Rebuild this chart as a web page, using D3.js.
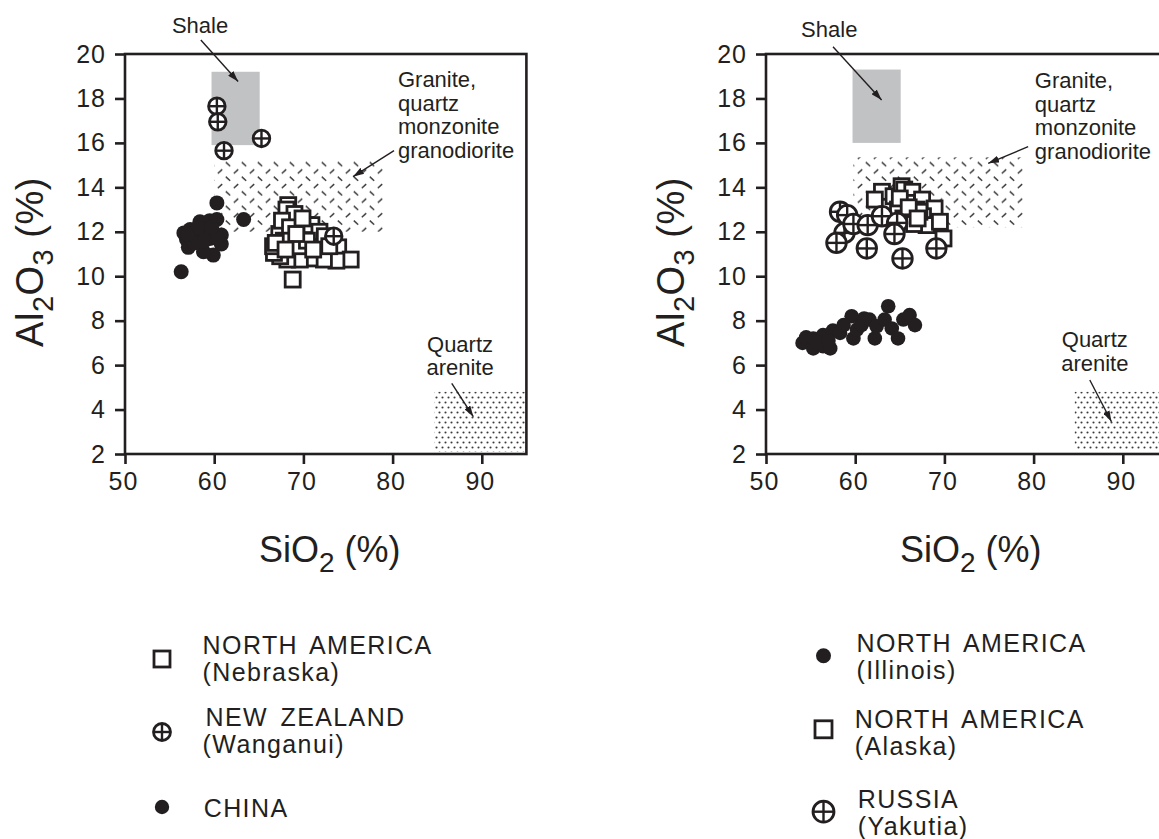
<!DOCTYPE html>
<html><head><meta charset="utf-8">
<script src="https://cdn.jsdelivr.net/npm/d3@7"></script>
<style>
html,body{margin:0;padding:0;background:#fff;}
svg{display:block;}
text{font-family:"Liberation Sans",Arial,Helvetica,sans-serif;fill:#231f20;}
</style></head><body>
<svg id="chart" width="1159" height="839"></svg>
<script>
// ---------- data ----------
const xTicks = [50, 60, 70, 80, 90];
const yTicks = [2, 4, 6, 8, 10, 12, 14, 16, 18, 20];
const xDomain = [50, 95];
const yDomain = [2, 20];

// Left panel series [SiO2, Al2O3]
const nebraska = [[68.3,13.2],[68.1,13.0],[69.0,12.8],[70.2,12.3],[70.9,12.3],[71.8,12.0],[72.4,11.8],[73.9,11.3],[75.3,10.75],[73.7,10.7],[72.3,10.75],[70.7,10.8],[69.6,10.75],[68.2,10.75],[67.4,10.9],[66.7,11.05],[66.6,11.35],[67.3,11.9],[67.6,12.5],[68.5,12.2],[69.6,11.35],[70.4,11.6],[71.1,11.2],[72.9,11.35],[67.8,11.6],[68.8,9.85],[69.2,11.9],[66.9,11.5],[68.0,11.2],[69.9,12.6]];
const wanganui = [[60.3,17.65],[60.4,16.95],[61.1,15.65],[65.3,16.2],[73.4,11.8]];
const china = [[60.3,13.3],[63.3,12.55],[56.3,10.2],[57.3,12.1],[58.4,12.45],[59.5,12.5],[60.3,12.55],[58.0,11.85],[56.9,11.65],[57.1,11.3],[58.4,11.5],[59.5,11.7],[60.8,11.85],[60.8,11.45],[59.9,10.95],[58.8,11.1],[59.2,12.1],[60.3,11.7],[58.2,12.2],[56.6,11.95],[57.7,11.5],[57.0,11.9],[58.9,11.6],[59.7,12.2]];

// Right panel series
const illinois = [[54.1,7.0],[54.5,7.25],[55.3,6.75],[55.3,7.2],[56.4,6.85],[56.4,7.35],[57.2,6.75],[57.5,7.55],[58.3,7.45],[58.7,7.8],[59.6,8.2],[59.8,7.2],[60.2,7.6],[60.7,7.8],[61.6,8.05],[62.2,7.2],[62.4,7.75],[63.3,8.05],[63.7,8.65],[64.1,7.65],[64.8,7.2],[65.4,8.05],[66.1,8.25],[66.7,7.8],[55.8,7.0],[57.0,7.1],[61.0,8.1]];
const alaska = [[63.0,13.8],[62.2,13.45],[64.3,13.6],[65.2,14.05],[65.5,13.9],[66.4,13.8],[65.8,13.3],[67.5,13.45],[66.9,13.0],[68.9,13.05],[67.6,12.7],[66.1,12.7],[68.0,12.3],[69.5,12.45],[69.9,11.7],[64.8,13.0],[65.4,12.6],[66.6,12.35],[67.2,12.9],[65.0,13.5],[66.0,13.1],[67.0,12.6]];
const yakutia = [[58.3,12.9],[59.1,12.75],[58.8,11.95],[59.8,12.35],[57.9,11.5],[61.4,12.3],[63.0,12.7],[64.7,12.4],[64.4,11.9],[61.3,11.25],[65.3,10.8],[69.1,11.25]];

// Compositional fields [SiO2 min, SiO2 max, Al2O3 min, Al2O3 max]
const shaleLeft = [59.7, 65.1, 15.9, 19.2];
const graniteLeft = [60.0, 79.0, 12.0, 15.2];
const areniteLeft = [84.7, 95.0, 2.1, 4.8];
const shaleRight = [59.7, 65.1, 16.0, 19.3];
const graniteRight = [59.8, 78.8, 12.2, 15.35];
const areniteRight = [84.6, 95.0, 2.2, 4.8];

const legendLeft = [["square","NORTH AMERICA","(Nebraska)"],["oplus","NEW ZEALAND","(Wanganui)"],["dot","CHINA",null]];
const legendRight = [["dot","NORTH AMERICA","(Illinois)"],["square","NORTH AMERICA","(Alaska)"],["oplus","RUSSIA","(Yakutia)"]];

// ---------- layout ----------
const INK = "#231f20";
const svg = d3.select("#chart");
const defs = svg.append("defs");

// granite dash pattern
const pg = defs.append("pattern").attr("id","granite").attr("patternUnits","userSpaceOnUse")
  .attr("width",16).attr("height",14.6);
pg.append("line").attr("x1",1.8).attr("y1",1.6).attr("x2",6.2).attr("y2",5.6).attr("stroke","#3a3a3a").attr("stroke-width",1.5);
pg.append("line").attr("x1",9.8).attr("y1",12.9).attr("x2",14.2).attr("y2",8.9).attr("stroke","#3a3a3a").attr("stroke-width",1.5);
// arenite stipple
const pa = defs.append("pattern").attr("id","arenite").attr("patternUnits","userSpaceOnUse")
  .attr("width",6).attr("height",10);
pa.append("circle").attr("cx",1.5).attr("cy",2.5).attr("r",1.05).attr("fill","#3a3a3a");
pa.append("circle").attr("cx",4.5).attr("cy",7.5).attr("r",1.05).attr("fill","#3a3a3a");
// arrowhead
defs.append("marker").attr("id","arrow").attr("markerUnits","userSpaceOnUse")
  .attr("markerWidth",11).attr("markerHeight",7).attr("refX",11).attr("refY",3.5).attr("orient","auto")
  .append("path").attr("d","M0,0 L11,3.5 L0,7 Z").attr("fill",INK);

function drawMarker(g, type, cx, cy, sz) {
  if (type === "square") {
    g.append("rect").attr("x",cx-sz/2).attr("y",cy-sz/2).attr("width",sz).attr("height",sz)
      .attr("fill","#fff").attr("stroke",INK).attr("stroke-width",2.8);
  } else if (type === "oplus") {
    g.append("circle").attr("cx",cx).attr("cy",cy).attr("r",sz).attr("fill","#fff").attr("stroke",INK).attr("stroke-width",2.8);
    g.append("line").attr("x1",cx-sz).attr("x2",cx+sz).attr("y1",cy).attr("y2",cy).attr("stroke",INK).attr("stroke-width",2.4);
    g.append("line").attr("x1",cx).attr("x2",cx).attr("y1",cy-sz).attr("y2",cy+sz).attr("stroke",INK).attr("stroke-width",2.4);
  } else {
    g.append("circle").attr("cx",cx).attr("cy",cy).attr("r",sz).attr("fill",INK);
  }
}

function panel(cfg) {
  const x = d3.scaleLinear().domain(xDomain).range([cfg.left, cfg.left + 401.4]);
  const y = d3.scaleLinear().domain(yDomain).range([454, 54]);
  const g = svg.append("g");

  // fields
  const field = (f, fill) => g.append("rect")
    .attr("x", x(f[0])).attr("width", x(f[1]) - x(f[0]))
    .attr("y", y(f[3])).attr("height", y(f[2]) - y(f[3])).attr("fill", fill);
  field(cfg.shale, "#c1c2c4");
  field(cfg.granite, "url(#granite)");
  field(cfg.arenite, "url(#arenite)");

  // frame
  g.append("rect").attr("x", x(50)).attr("y", y(20)).attr("width", x(95) - x(50)).attr("height", y(2) - y(20))
    .attr("fill","none").attr("stroke",INK).attr("stroke-width",2.6);

  // axes
  const ax = g.append("g").attr("transform", `translate(0,${y(2)})`)
    .call(d3.axisBottom(x).tickValues(xTicks).tickSize(10).tickSizeOuter(0).tickPadding(8).tickFormat(d3.format("d")));
  const ay = g.append("g").attr("transform", `translate(${x(50)},0)`)
    .call(d3.axisLeft(y).tickValues(yTicks).tickSize(10).tickSizeOuter(0).tickPadding(9).tickFormat(d3.format("d")));
  [ax, ay].forEach(a => {
    a.select(".domain").remove();
    a.selectAll(".tick line").attr("stroke",INK).attr("stroke-width",2.6);
    a.selectAll(".tick text").attr("fill",INK).style("font-size","25px")
      .style("font-family","'Liberation Sans',Arial,sans-serif").style("letter-spacing","1px");
  });
  ax.selectAll(".tick text").attr("dx", -2);

  // annotations
  const A = cfg.ann;
  g.append("text").attr("x", x(A.shale[0])).attr("y", y(A.shale[1])).attr("text-anchor","middle")
    .style("font-size","22px").text("Shale");
  ["Granite,","quartz","monzonite","granodiorite"].forEach((t,i) =>
    g.append("text").attr("x", x(A.granite[0])).attr("y", y(A.granite[1]) + i*23.5).style("font-size","22px").text(t));
  ["Quartz","arenite"].forEach((t,i) =>
    g.append("text").attr("x", x(A.quartz[0])).attr("y", y(A.quartz[1]) + i*23.5).attr("text-anchor","middle")
      .style("font-size","22px").text(t));
  A.arrows.forEach(a => g.append("line")
    .attr("x1", x(a[0])).attr("y1", y(a[1])).attr("x2", x(a[2])).attr("y2", y(a[3]))
    .attr("stroke",INK).attr("stroke-width",1.4).attr("marker-end","url(#arrow)"));

  // points
  const pts = g.append("g");
  cfg.series.forEach(s => s.data.forEach(d => drawMarker(pts, s.type, x(d[0]), y(d[1]), s.size)));

  // axis titles
  const xt = g.append("text").attr("x", (x(50) + x(95)) / 2 + 4).attr("y", 562)
    .attr("text-anchor","middle").style("font-size","36px");
  xt.append("tspan").text("SiO");
  xt.append("tspan").attr("dy", 10).style("font-size","28px").text("2");
  xt.append("tspan").attr("dy", -10).text(" (%)");

  const yt = g.append("text").attr("transform", `translate(${x(50) - 82},262) rotate(-90)`)
    .attr("text-anchor","middle").style("font-size","38px").style("letter-spacing","0.5px");
  yt.append("tspan").text("Al");
  yt.append("tspan").attr("dy", 10).style("font-size","29px").text("2");
  yt.append("tspan").attr("dy", -10).text("O");
  yt.append("tspan").attr("dy", 10).style("font-size","29px").text("3");
  yt.append("tspan").attr("dy", -10).text(" (%)");

  // legend
  const L = cfg.legend;
  cfg.legendItems.forEach((it, i) => {
    const type = it[0];
    const sz = type === "square" ? L.sq : (type === "oplus" ? L.op : L.dot);
    drawMarker(g, type, L.mx, L.my[i], sz);
    g.append("text").attr("x", L.tx[i]).attr("y", L.ty[i]).style("font-size","25px")
      .style("letter-spacing","1.4px").style("word-spacing","4px").text(it[1]);
    if (it[2]) g.append("text").attr("x", L.tx2[i]).attr("y", L.ty[i] + 27).style("font-size","25px")
      .style("letter-spacing","1.4px").text(it[2]);
  });
}

panel({
  left: 125,
  shale: shaleLeft, granite: graniteLeft, arenite: areniteLeft,
  series: [
    {type:"square", data: nebraska, size: 15},
    {type:"oplus", data: wanganui, size: 8.3},
    {type:"dot", data: china, size: 7.5}
  ],
  ann: {
    shale: [58.41, 20.93], granite: [80.6, 18.5], quartz: [87.56, 6.6],
    arrows: [[58.5,20.63,62.68,18.76],[80.16,15.65,75.56,14.48],[86.63,5.18,89.05,3.68]]
  },
  legendItems: legendLeft,
  legend: {mx: 162, my: [659, 732, 807], tx: [202.6, 205.6, 203.7], tx2: [202.6, 202.6, 202.6], ty: [654, 726, 816.5], sq: 16, op: 8.5, dot: 7.2}
});

panel({
  left: 766,
  shale: shaleRight, granite: graniteRight, arenite: areniteRight,
  series: [
    {type:"square", data: alaska, size: 15},
    {type:"oplus", data: yakutia, size: 9.8},
    {type:"dot", data: illinois, size: 7.3}
  ],
  ann: {
    shale: [57.09, 20.75], granite: [80.14, 18.45], quartz: [86.86, 6.8],
    arrows: [[57.51,20.33,62.96,17.93],[79.39,15.83,74.91,15.08],[86.3,5.33,88.73,3.45]]
  },
  legendItems: legendRight,
  legend: {mx: 823.5, my: [655.7, 729.3, 811.7], tx: [856.5, 854.7, 857.7], tx2: [856.5, 854.7, 857.7], ty: [651.7, 728.3, 808.3], sq: 17, op: 10.5, dot: 7.5}
});
</script>
</body></html>
